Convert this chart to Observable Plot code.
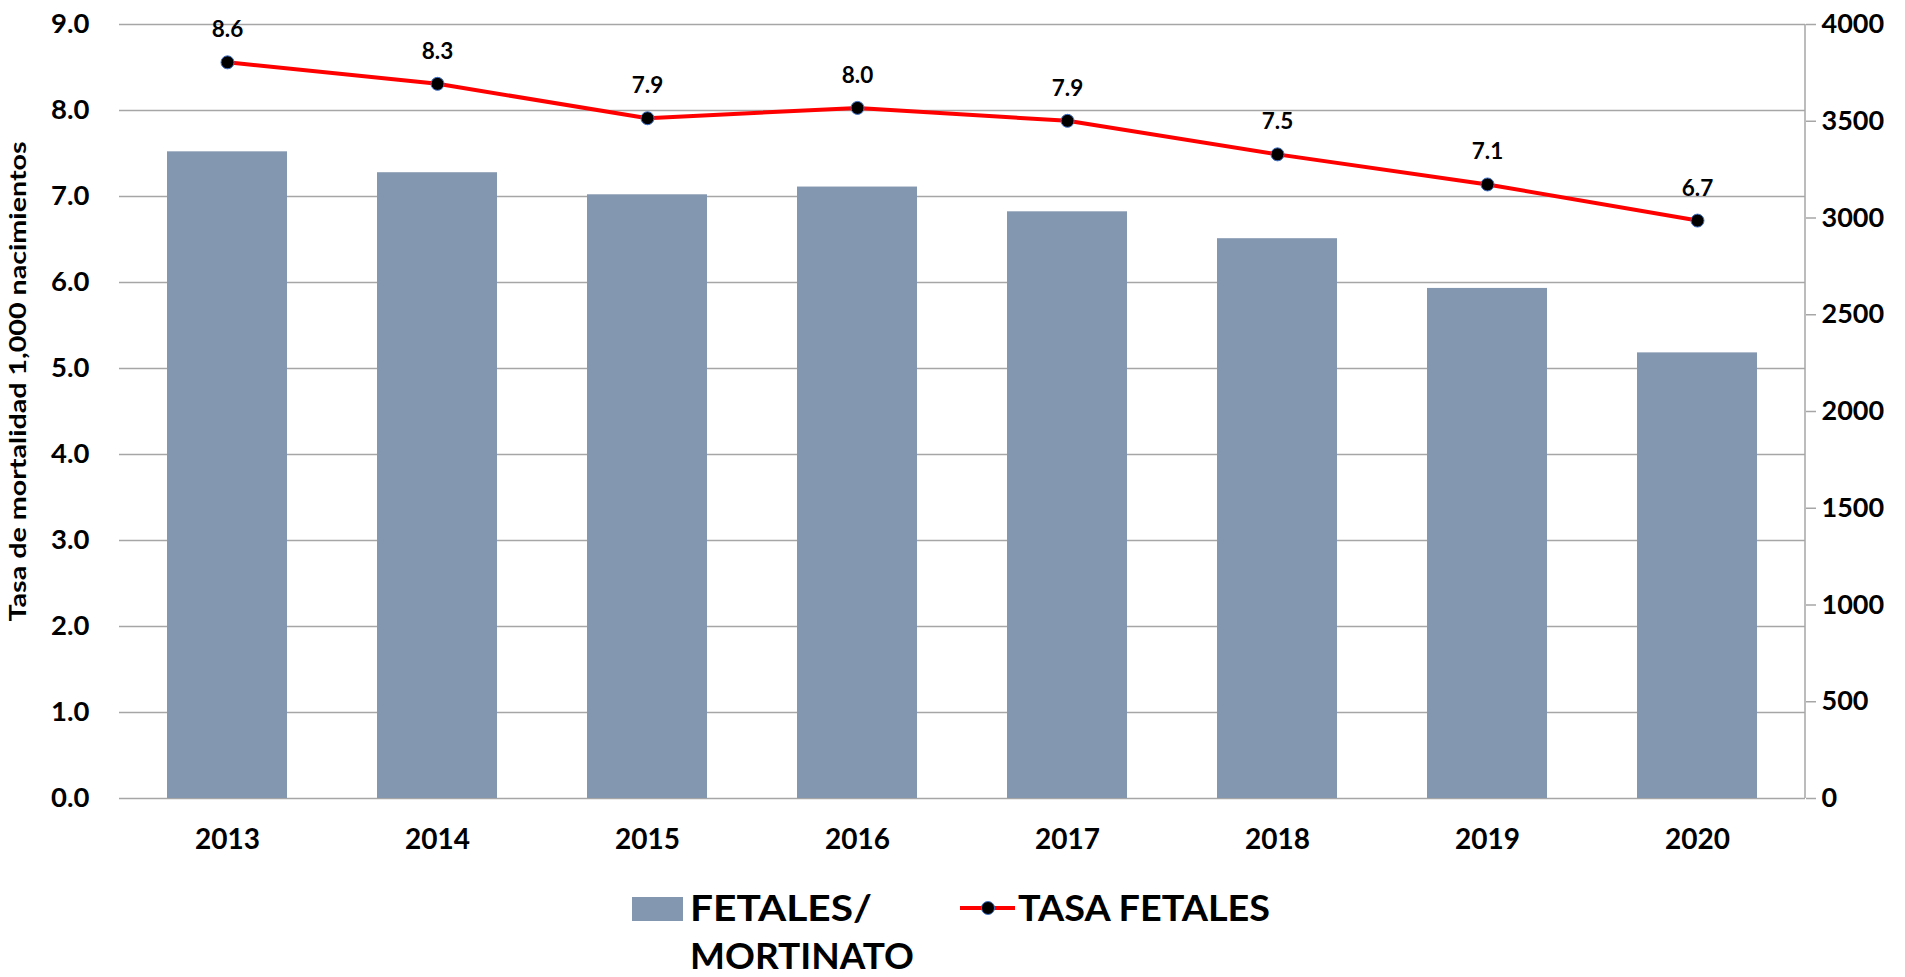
<!DOCTYPE html>
<html>
<head>
<meta charset="utf-8">
<script src="https://cdn.jsdelivr.net/npm/d3@7"></script>
<script src="https://cdn.jsdelivr.net/npm/@observablehq/plot@0.6"></script>
<style>
  body { margin: 0; background: #fff; }
  #chart { position: relative; width: 1905px; height: 977px; font-family: Lato, "Liberation Sans", sans-serif; }
  #chart svg { display: block; }
  #chart svg text { font-weight: 700; }
</style>
</head>
<body>
<div id="chart"></div>
<script>
// ---- data ----
const years = ["2013", "2014", "2015", "2016", "2017", "2018", "2019", "2020"];
const fetales = [3342, 3234, 3120, 3160, 3032, 2893, 2636, 2303];
const tasa = [8.56, 8.31, 7.91, 8.03, 7.88, 7.49, 7.14, 6.72];
const leftTicks = [0, 1, 2, 3, 4, 5, 6, 7, 8, 9];
const rightTicks = [0, 500, 1000, 1500, 2000, 2500, 3000, 3500, 4000];
const yTitle = "Tasa de mortalidad 1,000 nacimientos";
const legendBar = ["FETALES/", "MORTINATO"];
const legendLine = "TASA FETALES";

// ---- layout ----
const leftMax = 9, rightMax = 4000, k = leftMax / rightMax;
const W = 1905, H = 870;
const rows = years.map((y, i) => ({year: y, fetales: fetales[i], fetalesScaled: fetales[i] * k, tasa: tasa[i]}));
const gridColor = "#a6a6a6";
const font = "Lato, 'Liberation Sans', sans-serif";

const rightLine = (index, scales, values, dims) => {
  const x = dims.width - dims.marginRight;
  return d3.create("svg:line")
    .attr("x1", x).attr("x2", x)
    .attr("y1", dims.marginTop).attr("y2", dims.height - dims.marginBottom)
    .attr("stroke", gridColor).attr("stroke-width", 1.5)
    .node();
};

const chart = Plot.plot({
  width: W, height: H,
  marginLeft: 119, marginRight: 100, marginTop: 24, marginBottom: 72,
  style: {fontFamily: font, background: "#fff", overflow: "visible"},
  x: {domain: years, paddingInner: 0.43, paddingOuter: 0.215, label: null},
  y: {domain: [0, leftMax], label: null},
  marks: [
    Plot.gridY(leftTicks, {stroke: gridColor, strokeOpacity: 1, strokeWidth: 1.5}),
    Plot.barY(rows, {x: "year", y: "fetalesScaled", fill: "#8497b0"}),
    rightLine,
    Plot.axisY(leftTicks, {anchor: "left", tickSize: 0, tickPadding: 30, tickFormat: d => d.toFixed(1),
      fontSize: 27.5, fill: "#000", label: null}),
    Plot.axisY(rightTicks.map(v => v * k), {anchor: "right", tickSize: 10, tickPadding: 6,
      stroke: gridColor, strokeWidth: 1.5, fill: "#000", tickFormat: d => String(Math.round(d / k)),
      fontSize: 27, label: null}),
    Plot.axisX({tickSize: 0, tickPadding: 31, fontSize: 28, fill: "#000", label: null}),
    Plot.line(rows, {x: "year", y: "tasa", stroke: "#ff0000", strokeWidth: 4}),
    Plot.dot(rows, {x: "year", y: "tasa", r: 6.5, fill: "#000", stroke: "#4472c4", strokeWidth: 1}),
    Plot.text(rows, {x: "year", y: "tasa", text: d => d.tasa.toFixed(1), dy: -25, lineAnchor: "bottom",
      fontSize: 22.5, fill: "#000"}),
    Plot.text([yTitle], {text: d => d, frameAnchor: "left", textAnchor: "middle", lineAnchor: "middle",
      rotate: -90, dx: -101, dy: -30, fontSize: 22, fill: "#000"})
  ]
});
document.getElementById("chart").appendChild(chart);

// stretch the y title to the reference length
d3.select(chart).selectAll("text")
  .filter(function() { return this.textContent === yTitle; })
  .attr("textLength", 480).attr("lengthAdjust", "spacingAndGlyphs");

// ---- legend (below the plot) ----
const top0 = H;
const leg = d3.create("svg").attr("width", W).attr("height", 977 - top0)
  .style("font-family", font);
leg.append("rect").attr("x", 632).attr("y", 897 - top0).attr("width", 51).attr("height", 24).attr("fill", "#8497b0");
const lbW = [182, 224];
const lbY = [921, 969];
legendBar.forEach((t, i) => {
  leg.append("text").attr("x", 690).attr("y", lbY[i] - top0).attr("font-size", 36)
    .attr("textLength", lbW[i]).attr("lengthAdjust", "spacingAndGlyphs").attr("fill", "#000").text(t);
});
leg.append("line").attr("x1", 960).attr("x2", 1015).attr("y1", 908 - top0).attr("y2", 908 - top0)
  .attr("stroke", "#ff0000").attr("stroke-width", 4);
leg.append("circle").attr("cx", 988).attr("cy", 908 - top0).attr("r", 6.5)
  .attr("fill", "#000").attr("stroke", "#4472c4").attr("stroke-width", 1);
leg.append("text").attr("x", 1018).attr("y", 921 - top0).attr("font-size", 36)
  .attr("textLength", 252).attr("lengthAdjust", "spacingAndGlyphs").attr("fill", "#000").text(legendLine);
document.getElementById("chart").appendChild(leg.node());
</script>
</body>
</html>
